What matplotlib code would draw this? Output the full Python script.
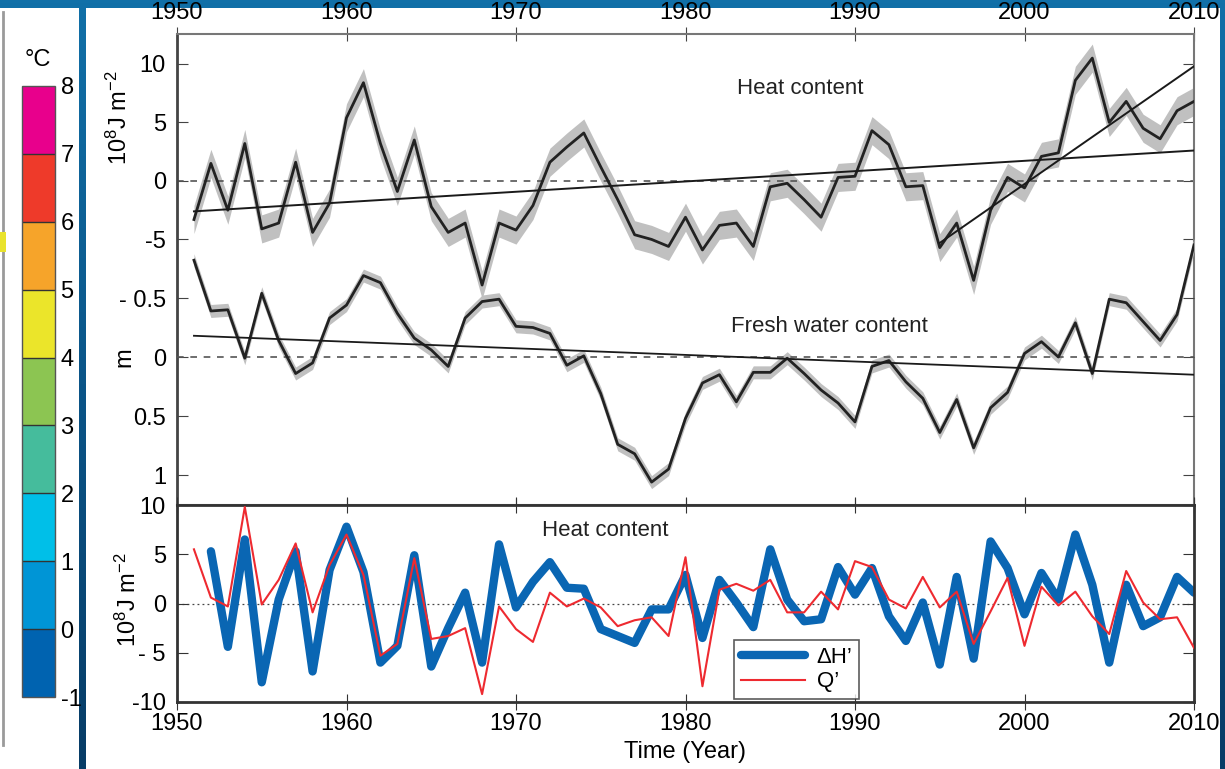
import numpy as np
import matplotlib
matplotlib.use("Agg")
import matplotlib.pyplot as plt
from matplotlib.patches import Rectangle
from matplotlib.colors import ListedColormap, BoundaryNorm, LinearSegmentedColormap
from matplotlib.cm import ScalarMappable

plt.rcParams['font.family'] = ['Liberation Sans', 'DejaVu Sans']
plt.rcParams['mathtext.default'] = 'regular'

# -------------------------------
# Data
# -------------------------------
years = np.arange(1951, 2011)

heat = [-3.3, 1.5, -2.5, 3.2, -4.1, -3.6, 1.6, -4.4, -1.9, 5.4,
        8.4, 3.2, -0.9, 3.5, -2.2, -4.4, -3.6, -8.9, -3.6, -4.2,
        -2.1, 1.6, 2.9, 4.1, 1.2, -1.6, -4.6, -5.0, -5.6, -3.1,
        -5.9, -3.8, -3.6, -5.6, -0.5, -0.2, -1.6, -3.1, 0.3, 0.4,
        4.3, 3.1, -0.5, -0.4, -5.7, -3.6, -8.5, -2.5, 0.3, -0.6,
        2.1, 2.4, 8.6, 10.5, 5.0, 6.8, 4.5, 3.6, 6.0, 6.8]
heat_err = 1.2

fresh = [-0.82, -0.39, -0.40, 0.01, -0.54, -0.14, 0.14, 0.05, -0.33, -0.44,
         -0.69, -0.63, -0.37, -0.16, -0.06, 0.08, -0.33, -0.47, -0.49, -0.26,
         -0.25, -0.20, 0.07, -0.01, 0.31, 0.74, 0.82, 1.06, 0.95, 0.52,
         0.22, 0.15, 0.38, 0.13, 0.13, 0.01, 0.14, 0.28, 0.39, 0.55,
         0.08, 0.03, 0.21, 0.35, 0.64, 0.36, 0.77, 0.43, 0.30, -0.03,
         -0.13, 0.00, -0.29, 0.14, -0.49, -0.46, -0.30, -0.14, -0.36, -0.95]
fresh_err = 0.055

heat_trend_years = [1951, 2010]
heat_trend = [-2.6, 2.6]
heat_recent_years = [1995, 2010]
heat_recent = [-5.3, 9.8]
fresh_trend_years = [1951, 2010]
fresh_trend = [-0.18, 0.15]

dh_years = np.arange(1952, 2011)
dh = [5.3, -4.4, 6.5, -8.0, 0.4, 5.3, -6.9, 3.4, 7.8,
      3.2, -6.0, -4.3, 4.9, -6.4, -2.5, 1.1, -6.0, 6.0, -0.4,
      2.2, 4.2, 1.6, 1.5, -2.6, -3.3, -4.0, -0.6, -0.6, 2.9,
      -3.5, 2.4, 0.1, -2.4, 5.5, 0.4, -1.8, -1.6, 3.7, 0.9,
      3.6, -1.3, -3.8, 0.1, -6.2, 2.7, -5.6, 6.3, 3.6, -1.1,
      3.1, 0.4, 7.0, 1.9, -6.0, 1.9, -2.3, -1.4, 2.7, 1.1]
q_years = np.arange(1951, 2011)
q = [5.5, 0.6, -0.3, 9.8, -0.1, 2.4, 6.1, -0.9, 3.9, 7.0,
     2.9, -5.3, -4.1, 4.6, -3.6, -3.3, -2.5, -9.2, -0.3, -2.6,
     -3.9, 1.1, -0.3, 0.5, -0.4, -2.3, -1.7, -1.4, -3.3, 4.7,
     -8.4, 1.4, 2.0, 1.3, 2.4, -0.9, -0.9, 1.2, -0.6, 4.3,
     3.7, 0.4, -0.5, 2.7, -0.4, 1.2, -4.1, -0.8, 2.6, -4.3,
     1.7, -0.2, 1.2, -1.3, -3.1, 3.3, 0.1, -1.6, -1.4, -4.5]

cbar_bounds = [-1, 0, 1, 2, 3, 4, 5, 6, 7, 8]
cbar_colors = ['#0063b0', '#0095d6', '#00bfe8', '#45bc9c', '#8cc552',
               '#ebe52a', '#f6a42a', '#ee3a2a', '#e8008c']

xticks = [1950, 1960, 1970, 1980, 1990, 2000, 2010]

# -------------------------------
# Figure + slide background
# -------------------------------
W, H = 1225, 769
fig = plt.figure(figsize=(W / 100, H / 100), dpi=100)


def fx(px):
    return px / W


def fy(py):
    return 1 - py / H


bg = fig.add_axes([0, 0, 1, 1], zorder=-10)
grad = np.linspace(0, 1, 256).reshape(-1, 1)
bg_cmap = LinearSegmentedColormap.from_list('bg', ['#1170a8', '#0b5588', '#073c66'])
bg.imshow(grad, aspect='auto', cmap=bg_cmap, extent=[0, 1, 0, 1])
bg.set_axis_off()

fig.add_artist(Rectangle((0, 0), fx(79), fy(8), transform=fig.transFigure,
                         facecolor='white', edgecolor='none', zorder=-5))
fig.add_artist(Rectangle((fx(86), 0), fx(1220 - 86), fy(8), transform=fig.transFigure,
                         facecolor='white', edgecolor='none', zorder=-5))
fig.add_artist(plt.Line2D([fx(3), fx(3)], [fy(745), fy(12)], transform=fig.transFigure,
                          color='#9a9a9a', lw=2, zorder=-4))
fig.add_artist(Rectangle((0, fy(252)), fx(6), fy(232) - fy(252), transform=fig.transFigure,
                         facecolor='#e9e32c', edgecolor='none', zorder=-4))

# -------------------------------
# Colorbar on the left
# -------------------------------
cax = fig.add_axes([fx(22), fy(697), fx(55) - fx(22), fy(86) - fy(697)])
cmap = ListedColormap(cbar_colors)
norm = BoundaryNorm(cbar_bounds, cmap.N)
cb = fig.colorbar(ScalarMappable(norm=norm, cmap=cmap), cax=cax, drawedges=True,
                  ticks=cbar_bounds)
cb.outline.set_edgecolor('#555555')
cb.outline.set_linewidth(1)
cb.dividers.set_color('#333333')
cb.dividers.set_linewidth(1)
cax.tick_params(length=0, labelsize=17, pad=4)
cax.set_yticklabels([str(b) for b in cbar_bounds])
fig.text(fx(38), fy(60), '°C', ha='center', va='center', fontsize=17)

# -------------------------------
# Top panel: heat content + fresh water content
# -------------------------------
top_pos = [fx(177), fy(505), fx(1194) - fx(177), fy(34) - fy(505)]
ax1 = fig.add_axes(top_pos)
ax1.set_xlim(1950, 2010)
ax1.set_ylim(-27.7, 12.56)

heat_a = np.array(heat)
ax1.fill_between(years, heat_a - heat_err, heat_a + heat_err, color='#c0c0c0',
                 lw=0, zorder=1)
ax1.plot(years, heat_a, color='#222222', lw=2.0, zorder=3)
ax1.plot(heat_trend_years, heat_trend, color='#1a1a1a', lw=1.4, zorder=4)
ax1.plot(heat_recent_years, heat_recent, color='#1a1a1a', lw=1.4, zorder=4)
ax1.axhline(0, color='#555555', lw=1.2, ls=(0, (4, 4)), zorder=2)

ax1.set_yticks([-5, 0, 5, 10])
ax1.set_yticklabels(['-5', '0', '5', '10'])
ax1.set_xticks(xticks)
ax1.xaxis.tick_top()
ax1.tick_params(axis='x', which='both', top=True, bottom=True, labeltop=True,
                labelbottom=False, direction='inout', length=10, labelsize=17,
                pad=2, color='#444444')
ax1.tick_params(axis='y', left=True, right=True, direction='in', length=8,
                labelsize=17, pad=8, color='#444444')
for s in ax1.spines.values():
    s.set_color('#777777')
    s.set_linewidth(1.5)
ax1.spines['left'].set_color('#444444')
ax1.spines['left'].set_linewidth(2)
ax1.text(-0.057, 0.822, r'10$^{8}$J m$^{-2}$', transform=ax1.transAxes,
         rotation=90, ha='center', va='center', fontsize=17)
ax1.text(-0.052, 0.314, 'm', transform=ax1.transAxes, rotation=90,
         ha='center', va='center', fontsize=17)
ax1.text(0.6126, 0.885, 'Heat content', transform=ax1.transAxes,
         ha='center', va='center', fontsize=16, color='#222222')
ax1.text(0.642, 0.378, 'Fresh water content', transform=ax1.transAxes,
         ha='center', va='center', fontsize=16, color='#222222')

axf = fig.add_axes(top_pos, frameon=False)
axf.patch.set_alpha(0)
axf.set_xlim(1950, 2010)
axf.set_ylim(1.254, -2.737)
fresh_a = np.array(fresh)
axf.fill_between(years, fresh_a - fresh_err, fresh_a + fresh_err, color='#c0c0c0',
                 lw=0, zorder=1)
axf.plot(years, fresh_a, color='#222222', lw=2.0, zorder=3)
axf.plot(fresh_trend_years, fresh_trend, color='#1a1a1a', lw=1.3, zorder=4)
axf.axhline(0, color='#555555', lw=1.2, ls=(0, (4, 4)), zorder=2)
axf.set_xticks([])
axf.set_yticks([-0.5, 0, 0.5, 1])
axf.set_yticklabels(['- 0.5', '0', '0.5', '1'])
axf.tick_params(axis='y', left=True, right=True, direction='in', length=8,
                labelsize=17, pad=8, color='#444444')

# -------------------------------
# Bottom panel: heat content change vs surface flux
# -------------------------------
ax2 = fig.add_axes([fx(177), fy(702), fx(1194) - fx(177), fy(505) - fy(702)])
ax2.set_xlim(1950, 2010)
ax2.set_ylim(-10, 10)
ax2.axhline(0, color='#444444', lw=0.9, ls=(0, (1.5, 2.5)), zorder=1)
ax2.plot(dh_years, dh, color='#0a66b3', lw=6, solid_joinstyle='round',
         solid_capstyle='round', label='ΔH’', zorder=2)
ax2.plot(q_years, q, color='#ee2a30', lw=1.5, label='Q’', zorder=3)
ax2.set_xticks(xticks)
ax2.set_yticks([-10, -5, 0, 5, 10])
ax2.set_yticklabels(['-10', '- 5', '0', '5', '10'])
ax2.tick_params(axis='x', top=True, bottom=True, direction='inout', length=12,
                labelsize=17, pad=2, color='#333333')
ax2.tick_params(axis='y', left=True, right=True, direction='in', length=8,
                labelsize=17, pad=8, color='#333333')
for s in ax2.spines.values():
    s.set_color('#333333')
    s.set_linewidth(2)
ax2.set_xlabel('Time (Year)', fontsize=17, labelpad=4)
ax2.text(-0.048, 0.518, r'10$^{8}$J m$^{-2}$', transform=ax2.transAxes,
         rotation=90, ha='center', va='center', fontsize=17)
ax2.text(0.421, 0.873, 'Heat content', transform=ax2.transAxes,
         ha='center', va='center', fontsize=16, color='#222222')
leg = ax2.legend(loc='lower left', bbox_to_anchor=(0.548, 0.015), fontsize=16,
                 frameon=True, fancybox=False, edgecolor='#333333',
                 handlelength=2.9, borderpad=0.3, labelspacing=0.15,
                 handletextpad=0.5, borderaxespad=0)
leg.get_frame().set_linewidth(1.2)

fig.savefig('out.png', dpi=100)
